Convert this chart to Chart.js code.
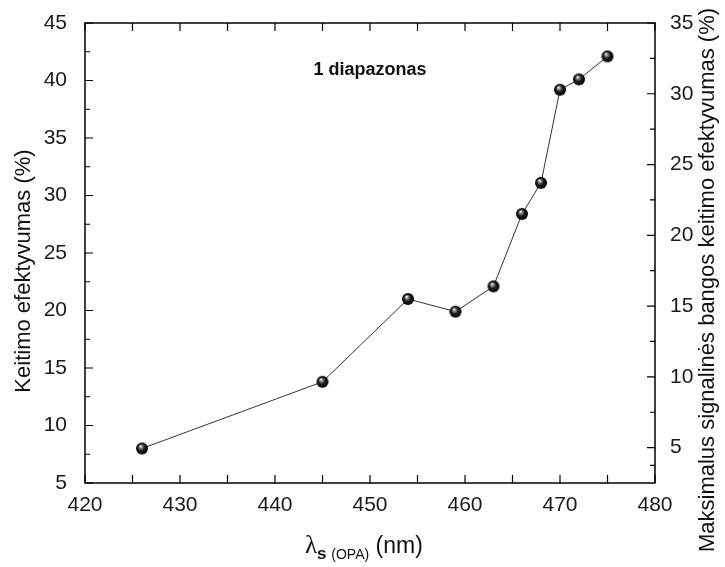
<!DOCTYPE html>
<html>
<head>
<meta charset="utf-8">
<script src="https://cdn.jsdelivr.net/npm/chart.js@4/dist/chart.umd.min.js"></script>
<style>
    html, body { margin: 0; padding: 0; background: #fff; }
    #wrap { width: 725px; height: 567px; }
</style>
</head>
<body>
<div id="wrap"><canvas id="chart"></canvas></div>
<script>
// Duomenys
const wavelengths = [426, 445, 454, 459, 463, 466, 468, 470, 472, 475];
const efficiency = [8.0, 13.8, 21.0, 19.9, 22.1, 28.4, 31.1, 39.2, 40.1, 42.1];
const xTicks = [420, 430, 440, 450, 460, 470, 480];
const leftTicks = [5, 10, 15, 20, 25, 30, 35, 40, 45];
const rightTicks = [5, 10, 15, 20, 25, 30, 35];
const panelLabel = '1 diapazonas';
const leftTitle = 'Keitimo efektyvumas (%)';
const rightTitle = 'Maksimalus signalinės bangos keitimo efektyvumas (%)';

const FONT = '"Liberation Sans", Arial, sans-serif';

// tarpinės padalos tarp pagrindinių
function withMinor(ticks) {
    const out = [];
    ticks.forEach((t, i) => {
        out.push({ v: t, major: true });
        if (i < ticks.length - 1) out.push({ v: (t + ticks[i + 1]) / 2, major: false });
    });
    return out;
}

// juodas rutuliukas taškams
function sphere(r) {
    const c = document.createElement('canvas');
    c.width = c.height = r * 2 + 2;
    const g = c.getContext('2d');
    const grad = g.createRadialGradient(r * 0.75 + 1, r * 0.6 + 1, 0.3, r + 1, r + 1, r);
    grad.addColorStop(0, '#ffffff');
    grad.addColorStop(0.22, '#8a8a8a');
    grad.addColorStop(0.55, '#1a1a1a');
    grad.addColorStop(1, '#000000');
    g.fillStyle = grad;
    g.beginPath();
    g.arc(r + 1, r + 1, r, 0, Math.PI * 2);
    g.fill();
    return c;
}

const framePlugin = {
    id: 'frame',
    afterDraw(chart) {
        const { ctx, chartArea: a, scales } = chart;
        ctx.save();
        ctx.strokeStyle = '#000';
        ctx.lineWidth = 1.5;
        ctx.strokeRect(a.left, a.top, a.right - a.left, a.bottom - a.top);

        ctx.lineWidth = 1.2;
        ctx.beginPath();
        withMinor(xTicks).forEach(t => {
            const x = scales.x.getPixelForValue(t.v);
            const len = 8;
            ctx.moveTo(x, a.bottom); ctx.lineTo(x, a.bottom - len);
            ctx.moveTo(x, a.top); ctx.lineTo(x, a.top + len);
        });
        withMinor(leftTicks).forEach(t => {
            const y = scales.y.getPixelForValue(t.v);
            const len = t.major ? 8 : 5;
            ctx.moveTo(a.left, y); ctx.lineTo(a.left + len, y);
        });
        withMinor([2.5].concat(rightTicks)).forEach(t => {
            if (t.v <= 2.5) return;
            const y = scales.y2.getPixelForValue(t.v);
            const len = (t.v % 5 === 0) ? 8 : 5;
            ctx.moveTo(a.right, y); ctx.lineTo(a.right - len, y);
        });
        ctx.stroke();

        // užrašas grafiko viduje
        ctx.fillStyle = '#111';
        ctx.font = 'bold 18px ' + FONT;
        ctx.textAlign = 'center';
        ctx.textBaseline = 'middle';
        ctx.fillText(panelLabel, scales.x.getPixelForValue(450), scales.y.getPixelForValue(40.9));

        // ašių pavadinimai
        ctx.font = '22px ' + FONT;
        ctx.save();
        ctx.translate(24, 271);
        ctx.rotate(-Math.PI / 2);
        ctx.fillText(leftTitle, 0, 0);
        ctx.restore();

        ctx.save();
        ctx.translate(708, 280);
        ctx.rotate(-Math.PI / 2);
        ctx.fillText(rightTitle, 0, 0);
        ctx.restore();

        // x ašies pavadinimas su indeksu
        const parts = [
            { t: 'λ', f: '25px "Liberation Serif", serif', dy: 0 },
            { t: 's ', f: 'bold 17px ' + FONT, dy: 6 },
            { t: '(OPA)', f: '14px ' + FONT, dy: 6 },
            { t: ' (nm)', f: '23px ' + FONT, dy: 0 }
        ];
        let x = 305;
        ctx.textAlign = 'left';
        ctx.textBaseline = 'alphabetic';
        parts.forEach(p => {
            ctx.font = p.f;
            ctx.fillText(p.t, x, 553 + p.dy);
            x += ctx.measureText(p.t).width;
        });
        ctx.restore();
    }
};

const ctx = document.getElementById('chart').getContext('2d');
new Chart(ctx, {
    type: 'line',
    data: {
        datasets: [{
            data: wavelengths.map((w, i) => ({ x: w, y: efficiency[i] })),
            borderColor: '#333',
            borderWidth: 1,
            pointStyle: sphere(6),
            pointRadius: 6,
            tension: 0,
            yAxisID: 'y'
        }]
    },
    options: {
        responsive: true,
        maintainAspectRatio: false,
        animation: false,
        layout: { padding: { top: 23 } },
        plugins: { legend: { display: false }, tooltip: { enabled: false } },
        scales: {
            x: {
                type: 'linear',
                min: 420, max: 480,
                afterBuildTicks: s => { s.ticks = xTicks.map(v => ({ value: v })); },
                afterFit: s => { s.height = 84; },
                grid: { display: false },
                border: { display: false },
                ticks: { color: '#1a1a1a', font: { family: FONT, size: 21 }, padding: 2, maxRotation: 0 }
            },
            y: {
                position: 'left',
                min: 5, max: 45,
                afterBuildTicks: s => { s.ticks = leftTicks.map(v => ({ value: v })); },
                afterFit: s => { s.width = 85; },
                grid: { display: false },
                border: { display: false },
                ticks: { color: '#1a1a1a', font: { family: FONT, size: 21 }, padding: 10 }
            },
            y2: {
                position: 'right',
                min: 2.5, max: 35,
                afterBuildTicks: s => { s.ticks = rightTicks.map(v => ({ value: v })); },
                afterFit: s => { s.width = 70; },
                grid: { display: false },
                border: { display: false },
                ticks: { color: '#1a1a1a', font: { family: FONT, size: 21 }, padding: 7 }
            }
        }
    },
    plugins: [framePlugin]
});
</script>
</body>
</html>
